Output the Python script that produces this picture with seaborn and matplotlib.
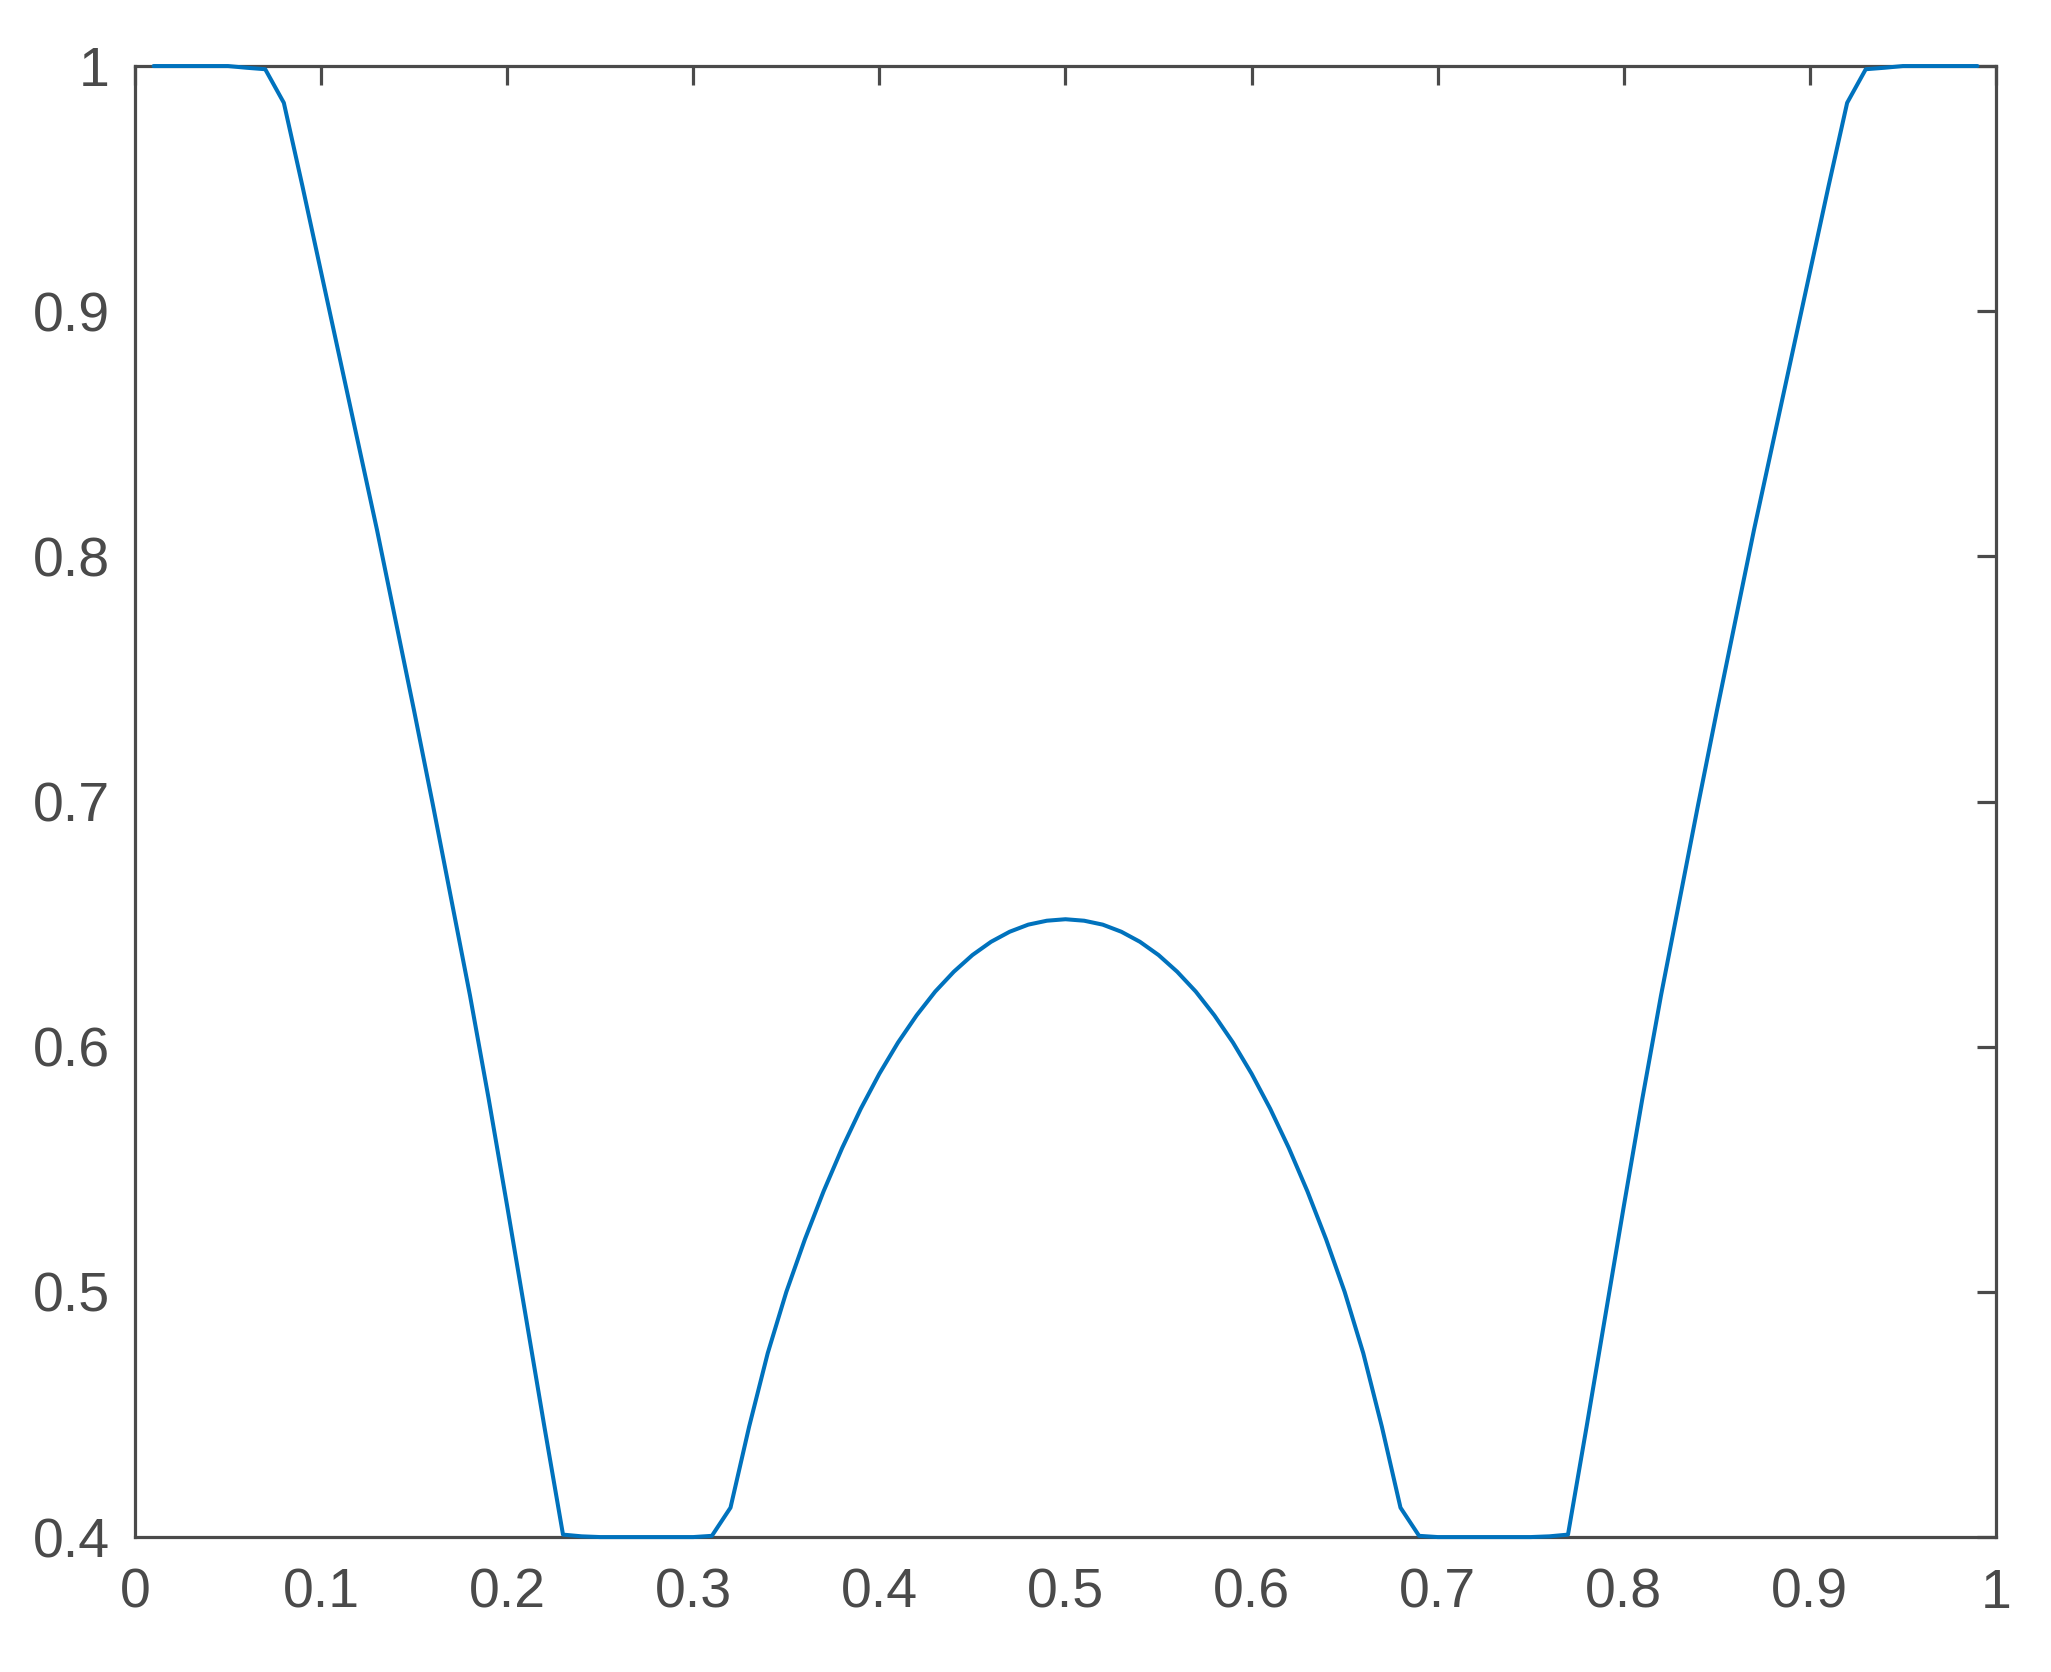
import numpy as np
import pandas as pd
import matplotlib
matplotlib.use("Agg")
import matplotlib.pyplot as plt
import seaborn as sns

# sample grid, 0.01 steps
x_vals = np.round(np.linspace(0.01, 0.99, 99), 2)

# values
y_vals = [
    1.0, 1.0, 1.0, 1.0, 1.0, 0.9993, 0.9987, 0.985, 0.951, 0.916,   # 0.01-0.10
    0.881, 0.846, 0.811, 0.774, 0.737, 0.699, 0.660, 0.621, 0.579, 0.535,  # 0.11-0.20
    0.490, 0.445, 0.401, 0.4003, 0.4, 0.4, 0.4, 0.4, 0.4, 0.4,  # 0.21-0.30
    0.4005, 0.412, 0.445, 0.475, 0.500, 0.5215, 0.541, 0.5587, 0.5747, 0.589,  # 0.31-0.40
    0.6017, 0.6128, 0.6225, 0.6306, 0.6374, 0.6428, 0.6469, 0.6498, 0.6514, 0.652,  # 0.41-0.50
    0.6514, 0.6498, 0.6469, 0.6428, 0.6374, 0.6306, 0.6225, 0.6128, 0.6017, 0.589,  # 0.51-0.60
    0.5747, 0.5587, 0.541, 0.5215, 0.500, 0.475, 0.445, 0.412, 0.4005, 0.4,  # 0.61-0.70
    0.4, 0.4, 0.4, 0.4, 0.4, 0.4003, 0.401, 0.445, 0.490, 0.535,  # 0.71-0.80
    0.579, 0.621, 0.660, 0.699, 0.737, 0.774, 0.811, 0.846, 0.881, 0.916,  # 0.81-0.90
    0.951, 0.985, 0.9987, 0.9993, 1.0, 1.0, 1.0, 1.0, 1.0,  # 0.91-0.99
]

x_ticks = [0, 0.1, 0.2, 0.3, 0.4, 0.5, 0.6, 0.7, 0.8, 0.9, 1]
x_tick_labels = ["0", "0.1", "0.2", "0.3", "0.4", "0.5", "0.6", "0.7", "0.8", "0.9", "1"]
y_ticks = [0.4, 0.5, 0.6, 0.7, 0.8, 0.9, 1]
y_tick_labels = ["0.4", "0.5", "0.6", "0.7", "0.8", "0.9", "1"]

df = pd.DataFrame({"x": x_vals, "y": y_vals})

sns.set_style("white")
plt.rcParams["font.family"] = ["Liberation Sans", "DejaVu Sans"]

axis_color = "#4a4a4a"

fig = plt.figure(figsize=(20.51, 16.72), dpi=100)
ax = fig.add_axes([0.0658, 0.0807, 0.9074, 0.8798])

# line drawn over the axes box, like the reference
sns.lineplot(data=df, x="x", y="y", ax=ax, color="#0072BD", linewidth=2.9,
             zorder=5, clip_on=False)

ax.set_xlim(0, 1)
ax.set_ylim(0.4, 1)
ax.set_xticks(x_ticks)
ax.set_xticklabels(x_tick_labels)
ax.set_yticks(y_ticks)
ax.set_yticklabels(y_tick_labels)
ax.set_xlabel("")
ax.set_ylabel("")

for side in ["top", "bottom", "left", "right"]:
    ax.spines[side].set_visible(True)
    ax.spines[side].set_color(axis_color)
    ax.spines[side].set_linewidth(2.3)

ax.tick_params(axis="both", direction="in", length=14, width=2.3,
               color=axis_color, labelcolor=axis_color, labelsize=40,
               top=True, right=True)
ax.tick_params(axis="x", pad=22)
ax.tick_params(axis="y", pad=18)
ax.grid(False)

plt.savefig("out.png", dpi=100)
